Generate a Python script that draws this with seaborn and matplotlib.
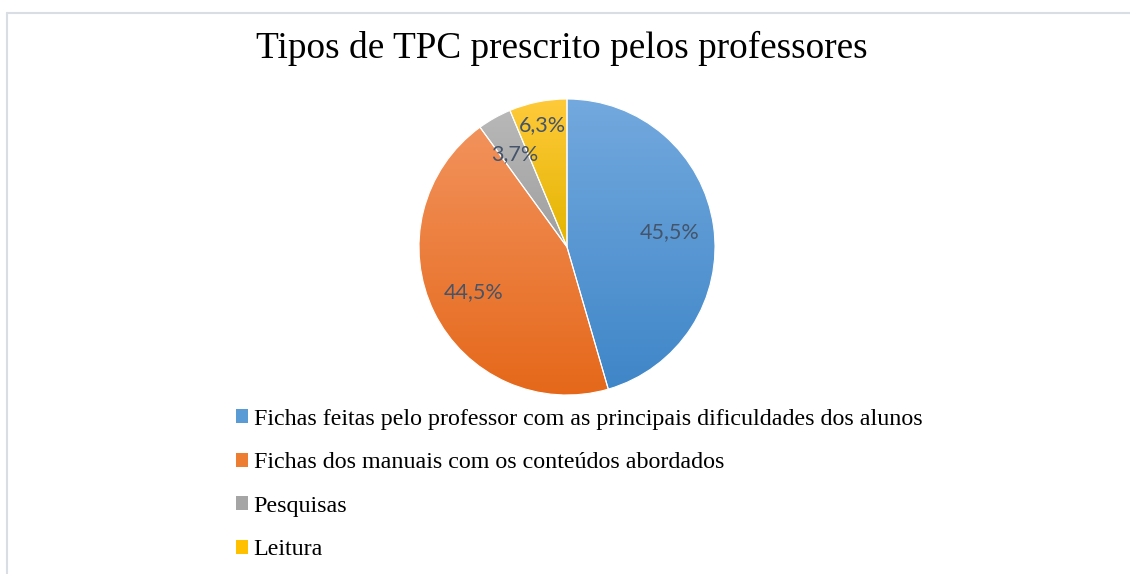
import numpy as np
import seaborn as sns
import matplotlib.pyplot as plt
from matplotlib.colors import LinearSegmentedColormap
from matplotlib.lines import Line2D
from matplotlib.patches import Patch

# data
categories = [
    "Fichas feitas pelo professor com as principais dificuldades dos alunos",
    "Fichas dos manuais com os conteúdos abordados",
    "Pesquisas",
    "Leitura",
]
shares = [45.5, 44.5, 3.7, 6.3]
title = "Tipos de TPC prescrito pelos professores"

# gradient colours per slice (top -> bottom), Excel style
top_colors = ["#73a9de", "#f2925c", "#b8b8b8", "#ffca3a"]
bottom_colors = ["#3f86c8", "#e5681a", "#9f9f9f", "#e3b400"]
legend_colors = ["#5b9bd5", "#ed7d31", "#a5a5a5", "#ffc000"]
label_dist = [0.70, 0.70, 0.72, 0.84]

sns.set_theme(style="white")
plt.rcParams["font.family"] = ["Liberation Serif", "DejaVu Serif"]

W, H = 1130, 574
fig = plt.figure(figsize=(W / 100, H / 100), dpi=100)

# pie axes: centre (567, 247) px, radius 148 px
cx, cy, r = 567, 247, 148
ax = fig.add_axes([(cx - r) / W, (H - cy - r) / H, 2 * r / W, 2 * r / H])

wedges, _ = ax.pie(
    shares,
    startangle=90,
    counterclock=False,
    radius=1,
    wedgeprops=dict(edgecolor="white", linewidth=0.8),
)
ax.axis("off")

grad = np.linspace(0, 1, 256).reshape(-1, 1)
for w, c0, c1, d, v in zip(wedges, top_colors, bottom_colors, label_dist, shares):
    bb = w.get_path().get_extents()
    cmap = LinearSegmentedColormap.from_list("g", [c0, c1])
    im = ax.imshow(grad, cmap=cmap, aspect="auto", origin="upper",
                   extent=[bb.x0, bb.x1, bb.y0, bb.y1], zorder=1)
    im.set_clip_path(w)
    w.set_facecolor("none")
    w.set_zorder(2)
    ang = np.deg2rad((w.theta1 + w.theta2) / 2)
    ax.text(d * np.cos(ang), d * np.sin(ang), f"{v:.1f}%".replace(".", ","),
            ha="center", va="center", fontsize=15.5, color="#44546a",
            family=["Lato", "DejaVu Sans"], zorder=3)

ax.set_xlim(-1, 1)
ax.set_ylim(-1, 1)

fig.text(562 / W, 1 - 48 / H, title, ha="center", va="center",
         fontsize=26.8, color="black")

handles = [Patch(facecolor=c, edgecolor="none") for c in legend_colors]
leg = fig.legend(handles, categories, loc="upper left",
                 bbox_to_anchor=(226 / W, 1 - 399 / H), frameon=False,
                 fontsize=17.3, handlelength=0.5, handleheight=0.5,
                 handletextpad=0.25, labelspacing=0.94, borderaxespad=0)
for t in leg.get_texts():
    t.set_color("black")

# chart frame (partially visible)
frame_col = "#d9dee5"
fig.add_artist(Line2D([7 / W, 7 / W], [0, 1 - 13 / H], color=frame_col,
                      linewidth=1.5, transform=fig.transFigure))
fig.add_artist(Line2D([7 / W, 1], [1 - 13 / H, 1 - 13 / H], color=frame_col,
                      linewidth=1.5, transform=fig.transFigure))

fig.savefig("out.png", dpi=100, facecolor="white")
